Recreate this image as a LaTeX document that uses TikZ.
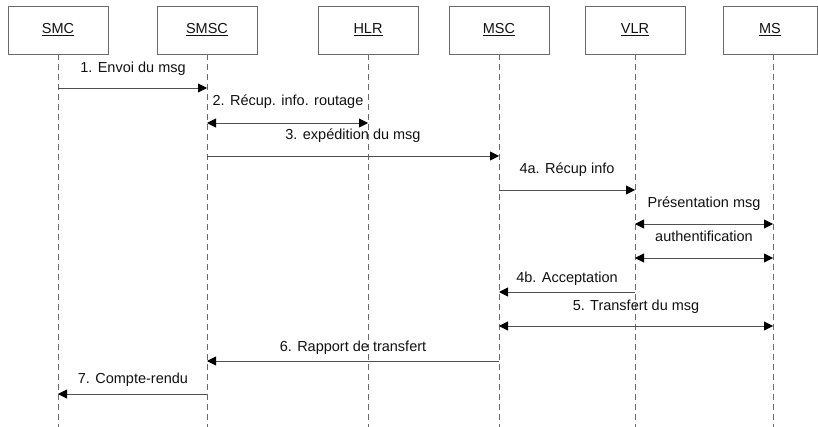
\documentclass[tikz,border=0pt]{standalone}
\usepackage{fontspec}
\setmainfont{Liberation Sans}
\usetikzlibrary{arrows.meta}
\definecolor{linegray}{HTML}{505050}
\definecolor{boxgray}{HTML}{6A6A6A}
\definecolor{ink}{HTML}{111111}
\begin{document}
\begin{tikzpicture}[x=1pt,y=-1pt,
  every node/.style={font=\fontsize{14.5}{17}\selectfont, text=ink},
  tip/.tip={Triangle[length=9pt,width=9pt,color=black]},
  actor/.style={draw=boxgray, line width=0.9pt, minimum width=100pt, minimum height=48pt, inner sep=0pt},
  lifeline/.style={draw=boxgray, line width=0.9pt, dash pattern=on 6pt off 4pt},
  msg/.style={draw=linegray, line width=0.9pt, -tip},
  msgback/.style={draw=linegray, line width=0.9pt, tip-},
  msgboth/.style={draw=linegray, line width=0.9pt, tip-tip},
  lbl/.style={anchor=base, inner sep=0pt}]
\useasboundingbox (0,0) rectangle (818,427);

% participants
\node[actor] (smc)  at (58,30)  {\underline{SMC}};
\node[actor] (smsc) at (207,30) {\underline{SMSC}};
\node[actor] (hlr)  at (368,30) {\underline{HLR}};
\node[actor] (msc)  at (499,30) {\underline{MSC}};
\node[actor] (vlr)  at (635,30) {\underline{VLR}};
\node[actor, minimum width=94pt] (ms) at (770,30) {\underline{MS}};

% lifeline ends
\coordinate (bottom) at (0,427);
\foreach \p in {smc,smsc,hlr,msc,vlr} {
  \draw[lifeline] (\p.south) -- (\p.south |- bottom);
}
\coordinate (msx) at (773,54);
\draw[lifeline] (msx) -- (msx |- bottom);

% message rows
\coordinate (r1) at (0,88);
\coordinate (r2) at (0,123);
\coordinate (r3) at (0,156);
\coordinate (r4) at (0,190);
\coordinate (r5) at (0,224);
\coordinate (r6) at (0,258);
\coordinate (r7) at (0,292);
\coordinate (r8) at (0,326);
\coordinate (r9) at (0,361);
\coordinate (r10) at (0,394);

\draw[msg] (smc |- r1) -- (smsc |- r1);
\node[lbl] (l1) at (133,73) {1. Envoi du msg};

\draw[msgboth] (smsc |- r2) -- (hlr |- r2);
\node[lbl] (l2) at (288,106) {2. Récup. info. routage};

\draw[msg] (smsc |- r3) -- (msc |- r3);
\node[lbl] (l3) at (353,140) {3. expédition du msg};

\draw[msg] (msc |- r4) -- (vlr |- r4);
\node[lbl] (l4) at (567,174) {4a. Récup info};

\draw[msgboth] (vlr |- r5) -- (msx |- r5);
\node[lbl] (l5) at (704,208) {Présentation msg};

\draw[msgboth] (vlr |- r6) -- (msx |- r6);
\node[lbl] (l6) at (704,242) {authentification};

\draw[msgback] (msc |- r7) -- (vlr |- r7);
\node[lbl] (l7) at (567,283) {4b. Acceptation};

\draw[msgboth] (msc |- r8) -- (msx |- r8);
\node[lbl] (l8) at (636,310) {5. Transfert du msg};

\draw[msgback] (smsc |- r9) -- (msc |- r9);
\node[lbl] (l9) at (353,351) {6. Rapport de transfert};

\draw[msgback] (smc |- r10) -- (smsc |- r10);
\node[lbl] (l10) at (133,383) {7. Compte-rendu};
\end{tikzpicture}
\end{document}
